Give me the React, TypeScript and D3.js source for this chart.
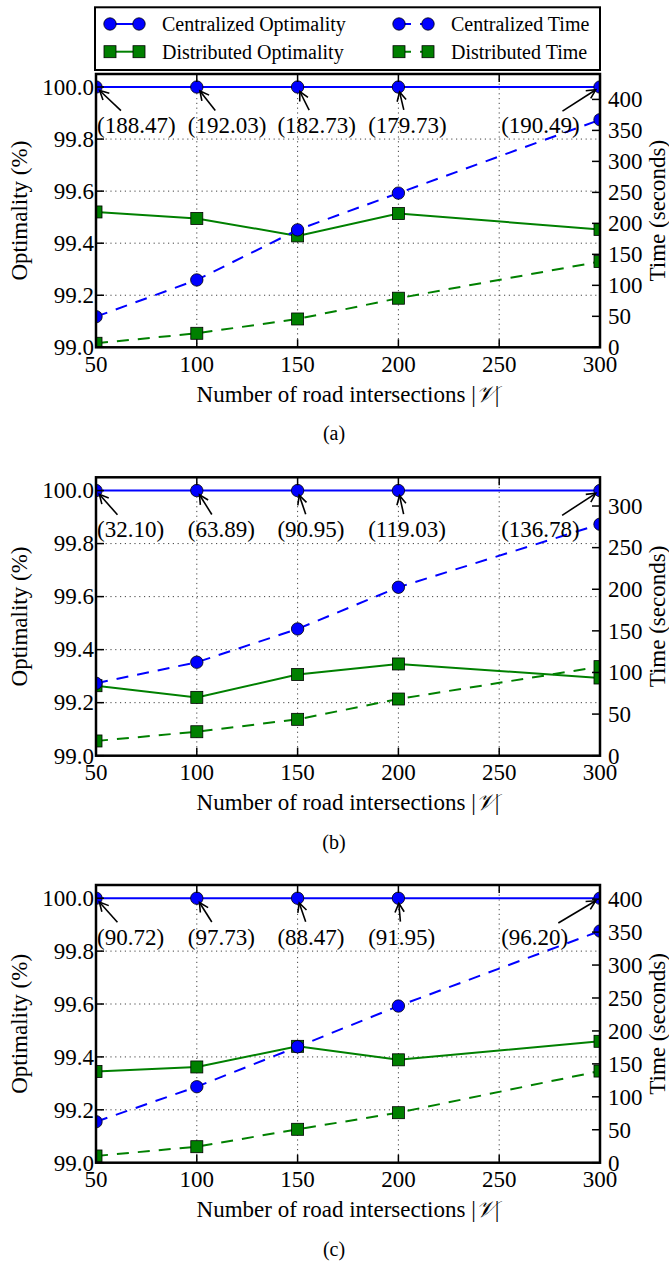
import React, { useRef, useEffect } from "react";
import * as d3 from "d3";

// shared x values / ticks
const nodeCounts = [50, 100, 150, 200, 300];
const xTicks = [50, 100, 150, 200, 250, 300];
const optTicks = [99.0, 99.2, 99.4, 99.6, 99.8, 100.0];
// where the "(…)" notes start, in x data units
const noteLeft = [50.5, 95.5, 140, 185, 251];
const noteLevel = 99.855;

// panel (a)
const centOptA = [100, 100, 100, 100, 100];
const distOptA = [99.52, 99.495, 99.428, 99.514, 99.453];
const centTimeA = [49.4, 108.7, 189.5, 248.8, 367.2];
const distTimeA = [6.5, 22.6, 45.7, 79.2, 138.3];
const notesA = ["(188.47)", "(192.03)", "(182.73)", "(179.73)", "(190.49)"];
const timeTicksA = [0, 50, 100, 150, 200, 250, 300, 350, 400];

// panel (b)
const centOptB = [100, 100, 100, 100, 100];
const distOptB = [99.264, 99.22, 99.306, 99.346, 99.293];
const centTimeB = [87.0, 112.3, 152.3, 202.4, 278.1];
const distTimeB = [17.7, 28.8, 43.7, 68.1, 107];
const notesB = ["(32.10)", "(63.89)", "(90.95)", "(119.03)", "(136.78)"];
const timeTicksB = [0, 50, 100, 150, 200, 250, 300];

// panel (c)
const centOptC = [100, 100, 100, 100, 100];
const distOptC = [99.345, 99.362, 99.44, 99.389, 99.459];
const centTimeC = [62.2, 115.3, 176, 237.8, 351.6];
const distTimeC = [10.2, 24.3, 50.7, 75.9, 139.1];
const notesC = ["(90.72)", "(97.73)", "(88.47)", "(91.95)", "(96.20)"];
const timeTicksC = [0, 50, 100, 150, 200, 250, 300, 350, 400];

const legendItems = [
  { label: "Centralized Optimality", color: "#0000ff", shape: "circle", dashed: false },
  { label: "Distributed Optimality", color: "#008000", shape: "square", dashed: false },
  { label: "Centralized Time", color: "#0000ff", shape: "circle", dashed: true },
  { label: "Distributed Time", color: "#008000", shape: "square", dashed: true },
];

const panels = [
  { tag: "(a)", top: 74, bottom: 347.3, centOpt: centOptA, distOpt: distOptA, centTime: centTimeA, distTime: distTimeA, notes: notesA, timeMax: 441, timeTicks: timeTicksA },
  { tag: "(b)", top: 477.3, bottom: 755.7, centOpt: centOptB, distOpt: distOptB, centTime: centTimeB, distTime: distTimeB, notes: notesB, timeMax: 334.5, timeTicks: timeTicksB },
  { tag: "(c)", top: 885, bottom: 1162.7, centOpt: centOptC, distOpt: distOptC, centTime: centTimeC, distTime: distTimeC, notes: notesC, timeMax: 421.5, timeTicks: timeTicksC },
];

const W = 669;
const H = 1261;
const left = 96;
const right = 600;
const FONT = "Liberation Serif, DejaVu Serif, serif";
const DASH = "12,9";
const R = 6.2; // circle marker radius
const SQ = 12; // square marker side

function App() {
  const svgRef = useRef<SVGSVGElement>(null);

  useEffect(() => {
    const svg = d3.select(svgRef.current);
    svg.selectAll("*").remove();

    const x = d3.scaleLinear().domain([50, 300]).range([left, right]);

    // text helper, font set on every element
    const label = (g: any) => g.append("text").attr("font-family", FONT).attr("fill", "#000");

    // draws the markers for one series
    function markers(g: any, pts: [number, number][], shape: string, color: string) {
      if (shape === "circle") {
        g.selectAll(null).data(pts).join("circle")
          .attr("cx", (d: any) => d[0]).attr("cy", (d: any) => d[1]).attr("r", R)
          .attr("fill", color).attr("stroke", "#000").attr("stroke-width", 0.8);
      } else {
        g.selectAll(null).data(pts).join("rect")
          .attr("x", (d: any) => d[0] - SQ / 2).attr("y", (d: any) => d[1] - SQ / 2)
          .attr("width", SQ).attr("height", SQ)
          .attr("fill", color).attr("stroke", "#000").attr("stroke-width", 0.8);
      }
    }

    function series(g: any, vals: number[], y: any, color: string, shape: string, dashed: boolean) {
      const pts: [number, number][] = vals.map((v, i) => [x(nodeCounts[i]), y(v)]);
      g.append("path")
        .attr("d", d3.line()(pts))
        .attr("fill", "none")
        .attr("stroke", color)
        .attr("stroke-width", 2)
        .attr("stroke-dasharray", dashed ? DASH : null);
      markers(g, pts, shape, color);
    }

    panels.forEach((p, pi) => {
      const yOpt = d3.scaleLinear().domain([99, 100.05]).range([p.bottom, p.top]);
      const yTime = d3.scaleLinear().domain([0, p.timeMax]).range([p.bottom, p.top]);
      const g = svg.append("g");

      const clipId = `clip-${pi}`;
      g.append("clipPath").attr("id", clipId)
        .append("rect").attr("x", left).attr("y", p.top)
        .attr("width", right - left).attr("height", p.bottom - p.top);

      // grid
      const grid = g.append("g").attr("stroke", "#444").attr("stroke-width", 1)
        .attr("stroke-dasharray", "1.2,3.6");
      grid.selectAll(null).data(optTicks.slice(1, -1)).join("line")
        .attr("x1", left).attr("x2", right)
        .attr("y1", (d) => yOpt(d)).attr("y2", (d) => yOpt(d));
      grid.selectAll(null).data(xTicks.slice(1, -1)).join("line")
        .attr("x1", (d) => x(d)).attr("x2", (d) => x(d))
        .attr("y1", p.top).attr("y2", p.bottom);

      const plot = g.append("g").attr("clip-path", `url(#${clipId})`);
      series(plot, p.centOpt, yOpt, "#0000ff", "circle", false);
      series(plot, p.distOpt, yOpt, "#008000", "square", false);
      series(plot, p.centTime, yTime, "#0000ff", "circle", true);
      series(plot, p.distTime, yTime, "#008000", "square", true);

      // frame
      g.append("rect").attr("x", left).attr("y", p.top)
        .attr("width", right - left).attr("height", p.bottom - p.top)
        .attr("fill", "none").attr("stroke", "#000").attr("stroke-width", 2.5);

      // ticks (inside)
      const ticks = g.append("g").attr("stroke", "#000").attr("stroke-width", 1.5);
      const TL = 8;
      ticks.selectAll(null).data(optTicks).join("line")
        .attr("x1", left).attr("x2", left + TL)
        .attr("y1", (d) => yOpt(d)).attr("y2", (d) => yOpt(d));
      ticks.selectAll(null).data(p.timeTicks).join("line")
        .attr("x1", right - TL).attr("x2", right)
        .attr("y1", (d) => yTime(d)).attr("y2", (d) => yTime(d));
      xTicks.forEach((t) => {
        ticks.append("line").attr("x1", x(t)).attr("x2", x(t)).attr("y1", p.bottom).attr("y2", p.bottom - TL);
        ticks.append("line").attr("x1", x(t)).attr("x2", x(t)).attr("y1", p.top).attr("y2", p.top + TL);
      });

      // tick labels
      optTicks.forEach((d) => {
        label(g).attr("x", left - 2).attr("y", yOpt(d)).attr("dy", "0.34em")
          .attr("text-anchor", "end").attr("font-size", 23)
          .text(d3.format(".1f")(d));
      });
      p.timeTicks.forEach((d) => {
        label(g).attr("x", right + 8).attr("y", yTime(d)).attr("dy", "0.34em")
          .attr("font-size", 23).text(String(d));
      });
      xTicks.forEach((d) => {
        label(g).attr("x", x(d)).attr("y", p.bottom + 24.4)
          .attr("text-anchor", "middle").attr("font-size", 23).text(String(d));
      });

      // axis titles
      const xl = label(g).attr("x", (left + right) / 2).attr("y", p.bottom + 54.4)
        .attr("text-anchor", "middle").attr("font-size", 23);
      xl.append("tspan").text("Number of road intersections |");
      xl.append("tspan").attr("font-style", "italic").text("\u{1D4B1}");
      xl.append("tspan").text("|");

      const midY = (p.top + p.bottom) / 2;
      label(g).attr("transform", `translate(19,${midY}) rotate(-90)`)
        .attr("text-anchor", "middle").attr("dominant-baseline", "central")
        .attr("font-size", 23).text("Optimality (%)");
      label(g).attr("transform", `translate(657.5,${midY}) rotate(-90)`)
        .attr("text-anchor", "middle").attr("dominant-baseline", "central")
        .attr("font-size", 23).text("Time (seconds)");

      label(g).attr("x", 334).attr("y", p.bottom + 93)
        .attr("text-anchor", "middle").attr("font-size", 20).text(p.tag);

      // annotations with "->" arrows
      const ann = g.append("g");
      p.notes.forEach((note, i) => {
        const txt = label(ann)
          .attr("x", x(noteLeft[i])).attr("y", yOpt(noteLevel) + 8)
          .attr("font-size", 23).text(note);
        const bb = (txt.node() as SVGTextElement).getBBox();
        const cx = bb.x + bb.width / 2;
        const cy = bb.y + bb.height / 2;
        const px = x(nodeCounts[i]);
        const py = yOpt(p.centOpt[i]);
        const dx = px - cx;
        const dy = py - cy;
        const len = Math.hypot(dx, dy);
        const ux = dx / len;
        const uy = dy / len;
        const t = Math.min(bb.width / 2 / Math.abs(dx || 1e-6), bb.height / 2 / Math.abs(dy || 1e-6));
        const sx = cx + dx * t + ux * 3;
        const sy = cy + dy * t + uy * 3;
        const ex = px - ux * 5;
        const ey = py - uy * 5;
        const a = ann.append("g").attr("stroke", "#000").attr("stroke-width", 1.6).attr("fill", "none");
        a.append("line").attr("x1", sx).attr("y1", sy).attr("x2", ex).attr("y2", ey);
        const hl = 9;
        const hw = 4.6;
        a.append("path").attr("d", d3.line()([
          [ex - ux * hl - uy * hw, ey - uy * hl + ux * hw],
          [ex, ey],
          [ex - ux * hl + uy * hw, ey - uy * hl - ux * hw],
        ]));
      });
    });

    // legend
    const lg = svg.append("g");
    lg.append("rect").attr("x", 95).attr("y", 7.3).attr("width", 505).attr("height", 62.7)
      .attr("fill", "#fff").attr("stroke", "#000").attr("stroke-width", 2);
    const cols = [110, 399];
    const rows = [24, 51.7];
    legendItems.forEach((it, i) => {
      const lx = cols[Math.floor(i / 2)];
      const ly = rows[i % 2];
      const e = lg.append("g");
      e.append("line").attr("x1", lx).attr("x2", lx + 29).attr("y1", ly).attr("y2", ly)
        .attr("stroke", it.color).attr("stroke-width", 2)
        .attr("stroke-dasharray", it.dashed ? DASH : null);
      markers(e, [[lx, ly], [lx + 29, ly]], it.shape, it.color);
      label(e).attr("x", lx + 52).attr("y", ly).attr("dy", "0.34em")
        .attr("font-size", 20).text(it.label);
    });
  }, []);

  return (
    <svg
      ref={svgRef}
      width={W}
      height={H}
      style={{ position: "absolute", left: 0, top: 0, background: "#fff" }}
    ></svg>
  );
}

export default App;
